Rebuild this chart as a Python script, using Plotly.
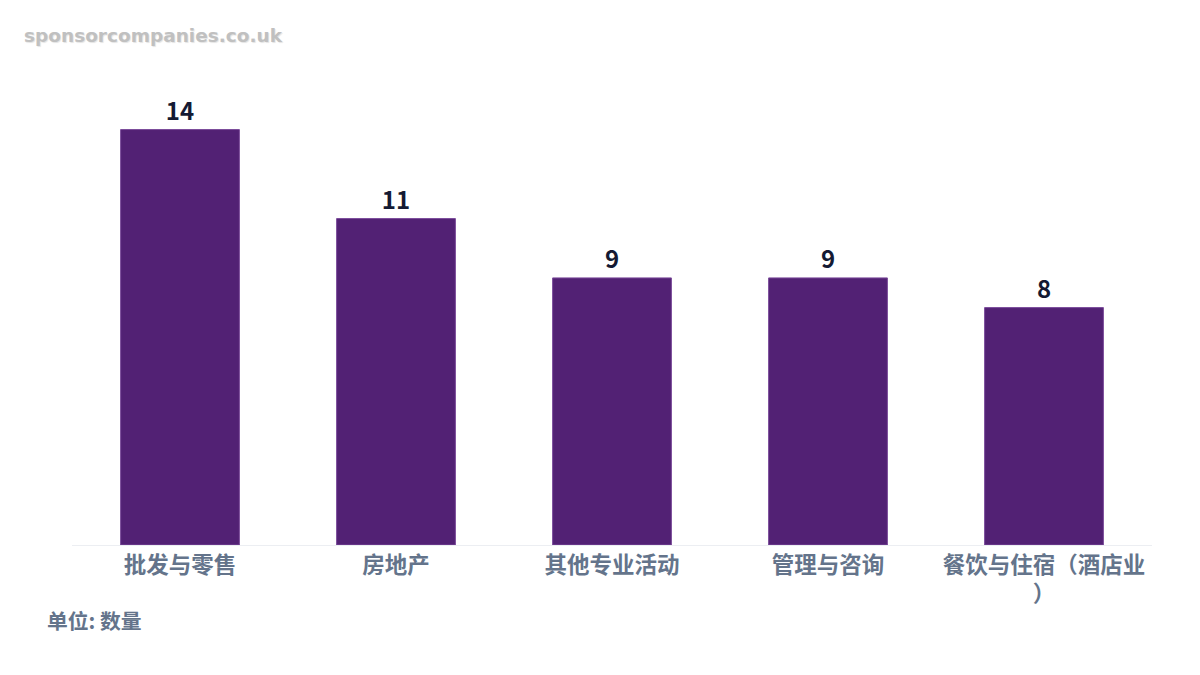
import plotly.graph_objects as go

# 数据
categories = ['批发与零售', '房地产', '其他专业活动', '管理与咨询', '餐饮与住宿（酒店业<br>）']
counts = [14, 11, 9, 9, 8]

fig = go.Figure()

fig.add_trace(go.Bar(
    x=categories, y=counts,
    marker=dict(color='#522174', line=dict(color='#7a4a9a', width=1)),
    text=[str(v) for v in counts], textposition='outside', cliponaxis=False,
    textfont=dict(family='Noto Sans CJK SC', size=24, color='#141a33', weight='bold'),
    hoverinfo='skip'
))

fig.update_layout(
    width=1200, height=675,
    margin=dict(l=64, r=56, t=80, b=138),
    paper_bgcolor='white', plot_bgcolor='white',
    bargap=0.45, showlegend=False,
    font=dict(family='Noto Sans CJK SC'),
    xaxis=dict(showgrid=False, showline=True, linecolor='#eceef2', linewidth=1,
               ticks='', tickfont=dict(family='Noto Sans CJK SC', size=22.5, color='#64748b', weight='bold')),
    yaxis=dict(visible=False, range=[0, 15.4]),
)

# 水印
fig.add_annotation(text='<b>sponsorcompanies.co.uk</b>', xref='paper', yref='paper',
                   x=-0.0463, y=1.114, xanchor='left', yanchor='middle', showarrow=False,
                   font=dict(family='DejaVu Sans', size=18.5, color='#c0c0c0',
                             shadow='1px 1px 1px #e4e4e4'))
# 单位
fig.add_annotation(text='<b>单位: 数量</b>', xref='paper', yref='paper',
                   x=-0.025, y=-0.164, xanchor='left', yanchor='middle', showarrow=False,
                   font=dict(family='Noto Sans CJK SC', size=20.8, color='#64748b'))

fig.write_html('out.html')
